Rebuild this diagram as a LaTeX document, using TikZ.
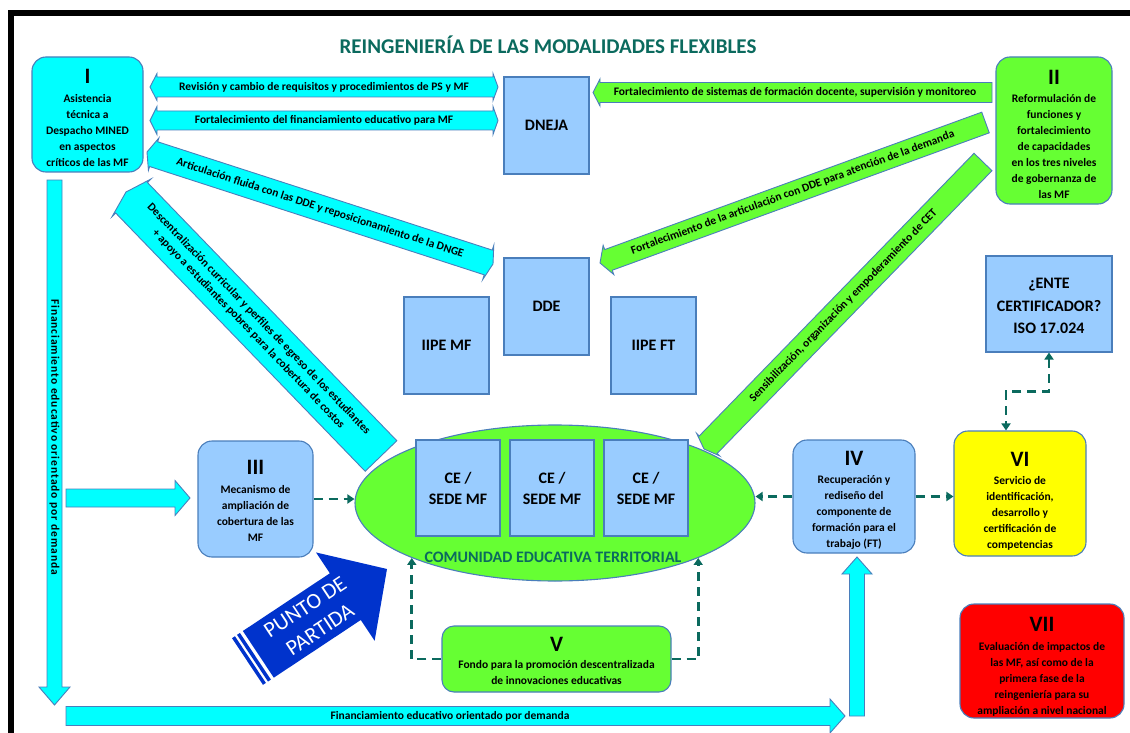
\documentclass[tikz,border=0pt]{standalone}
\usepackage{fontspec}
\setmainfont{Carlito}
\usetikzlibrary{calc,arrows.meta,shapes.geometric}

\definecolor{cyanF}{HTML}{00FFFF}
\definecolor{greenF}{HTML}{66FF33}
\definecolor{blueF}{HTML}{99CCFF}
\definecolor{edgeB}{HTML}{4A7EBB}
\definecolor{tealT}{HTML}{0B6A5E}
\definecolor{yellowF}{HTML}{FFFF00}
\definecolor{redF}{HTML}{FF0000}
\definecolor{pointB}{HTML}{0033CC}

% Wide band arrow: #1 style, #2 tip, #3 tail, #4 shaft half width,
% #5 head half width, #6 head length, #7 tail half width, #8 tail point length
\newcommand\bandarrow[8]{%
  \coordinate (hb) at ($(#2)!#6pt!(#3)$);
  \coordinate (tb) at ($(#3)!#8pt!(#2)$);
  \path[#1] (#2) -- ($(hb)!#5pt!90:(#3)$) -- ($(hb)!#4pt!90:(#3)$)
    -- ($(tb)!#4pt!-90:(#2)$) -- ($(tb)!#7pt!-90:(#2)$) -- (#3)
    -- ($(tb)!#7pt!90:(#2)$) -- ($(tb)!#4pt!90:(#2)$)
    -- ($(hb)!#4pt!-90:(#3)$) -- ($(hb)!#5pt!-90:(#3)$) -- cycle;
}
% Roman numeral heading of a box; the optional strut lowers the whole text block
\newcommand\rnum[2][14pt]{\rule{0pt}{#1}{\fontsize{22}{22}\selectfont #2}}

\begin{document}
\begin{tikzpicture}[x=1pt,y=-1pt,
  sqbox/.style={draw=edgeB, line width=1.1pt, fill=blueF, inner sep=0pt,
    align=center, minimum width=85pt, minimum height=97pt,
    font=\bfseries\fontsize{16}{21}\selectfont},
  rbox/.style={draw=edgeB, line width=1.1pt, rounded corners=14pt, inner sep=0pt,
    align=center, font=\bfseries\fontsize{11.5}{16}\selectfont},
  bandtext/.style={inner sep=0pt, align=center, font=\bfseries\fontsize{11.5}{14.5}\selectfont},
  cyanband/.style={fill=cyanF, draw=edgeB, line width=0.9pt},
  greenband/.style={fill=greenF, draw=edgeB, line width=0.9pt},
  pointband/.style={fill=pointB},
  dashlink/.style={draw=tealT, line width=2.6pt, dash pattern=on 9pt off 6pt,
    -{Triangle[length=7pt,width=9pt]}},
]
\useasboundingbox (0,0) rectangle (1130,733);

% frame
\fill[black] (8,10) rectangle (1130,16);
\fill[black] (8,10) rectangle (14,733);

\node[font=\bfseries\fontsize{21}{25}\selectfont, text=tealT] (title) at (548,45)
  {REINGENIERÍA DE LAS MODALIDADES FLEXIBLES};

% upper boxes
\node[rbox, fill=cyanF, minimum width=111pt, minimum height=115pt] (b1) at (87.5,114.5)
  {\rnum[21pt]{I}\\[2.5pt]Asistencia\\técnica a\\Despacho MINED\\en aspectos\\críticos de las MF};
\node[rbox, fill=greenF, minimum width=116pt, minimum height=147pt] (b2) at (1054,130.5)
  {\rnum[22pt]{II}\\[2.5pt]Reformulación de\\funciones y\\fortalecimiento\\de capacidades\\en los tres niveles\\de gobernanza de\\las MF};
\node[sqbox] (dneja) at (546.5,125.5) {DNEJA};
\node[sqbox] (dde) at (546.5,306.5) {DDE};
\node[sqbox] (iipemf) at (446.5,345.5) {IIPE MF};
\node[sqbox] (iipeft) at (653.5,345.5) {IIPE FT};
\node[sqbox, minimum width=126pt, minimum height=96pt, font=\bfseries\fontsize{16}{22.5}\selectfont]
  (iso) at (1049,304) {\rule{0pt}{15pt}¿ENTE\\CERTIFICADOR?\\ISO 17.024};

% territorial community
\node[ellipse, draw=edgeB, line width=1.1pt, fill=greenF, minimum width=400pt,
  minimum height=156pt, inner sep=0pt] (ce) at (555,503) {};
\foreach \i/\x in {1/458,2/552,3/646}
  \node[sqbox, minimum width=84pt, minimum height=96pt, font=\bfseries\fontsize{16}{21}\selectfont]
    (ce\i) at (\x,488) {CE /\\SEDE MF};
\node[font=\bfseries\fontsize{16}{18}\selectfont, text=tealT] (cet) at (553,557)
  {COMUNIDAD EDUCATIVA TERRITORIAL};

% horizontal band arrows at the top
\coordinate (a1tip) at (150,87);  \coordinate (a1tail) at (498,87);
\bandarrow{cyanband}{a1tip}{a1tail}{10}{13.5}{7}{13.5}{5}
\node[bandtext] (a1t) at ($(a1tip)!0.5!(a1tail)$)
  {Revisión y cambio de requisitos y procedimientos de PS y MF};

\coordinate (a2tip) at (150,120.5);  \coordinate (a2tail) at (498,120.5);
\bandarrow{cyanband}{a2tip}{a2tail}{9.5}{14}{7}{14}{5}
\node[bandtext] (a2t) at ($(a2tip)!0.5!(a2tail)$)
  {Fortalecimiento del financiamiento educativo para MF};

\coordinate (a3tip) at (593,92.5);  \coordinate (a3tail) at (992,92.5);
\bandarrow{greenband}{a3tip}{a3tail}{10}{13.5}{7}{10}{0}
\node[bandtext] (a3t) at (795,92.5)
  {Fortalecimiento de sistemas de formación docente, supervisión y monitoreo};

% diagonal band arrows
\coordinate (a4tip) at (147,152);  \coordinate (a4tail) at (493,264);
\bandarrow{cyanband}{a4tip}{a4tail}{13}{17}{7}{18}{5}
\node[bandtext, rotate=-17.94] (a4t) at ($(a4tip)!0.5!(a4tail)$)
  {Articulación fluida con las DDE y reposicionamiento de la DNGE};

\coordinate (a5tip) at (126,192);  \coordinate (a5tail) at (381,456);
\bandarrow{cyanband}{a5tip}{a5tail}{22}{27}{8}{22}{0}
\node[bandtext, rotate=-46] (a5t) at ($(a5tip)!0.5!(a5tail)$)
  {Descentralización curricular  y perfiles de egreso de los estudiantes\\+ apoyo a estudiantes pobres para la cobertura de costos};

\coordinate (a6tip) at (600,263);  \coordinate (a6tail) at (985.5,122.5);
\bandarrow{greenband}{a6tip}{a6tail}{11}{15.5}{9}{11}{0}
\node[bandtext, rotate=20.03] (a6t) at ($(a6tip)!0.5!(a6tail)$)
  {Fortalecimiento de la articulación con DDE para atención de la demanda};

\coordinate (a7tip) at (704,449);  \coordinate (a7tail) at (983,162);
\bandarrow{greenband}{a7tip}{a7tail}{12.5}{16}{6}{12.5}{0}
\node[bandtext, rotate=45.8] (a7t) at ($(a7tip)!0.5!(a7tail)$)
  {Sensibilización, organización y empoderamiento de CET};

% financing arrows
\coordinate (a8tip) at (54.5,705);  \coordinate (a8tail) at (54.5,180);
\bandarrow{cyanband}{a8tip}{a8tail}{7.5}{15.5}{18}{7.5}{0}
\node[bandtext, rotate=-90] (a8t) at (54.5,437)
  {\addfontfeatures{LetterSpace=8}Financiamiento educativo orientado por demanda};

\coordinate (a9tip) at (190,498);  \coordinate (a9tail) at (66,498);
\bandarrow{cyanband}{a9tip}{a9tail}{9}{17.5}{15}{9}{0}

\coordinate (a10tip) at (845,716);  \coordinate (a10tail) at (66,716);
\bandarrow{cyanband}{a10tip}{a10tail}{9.5}{17}{15}{9.5}{0}
\node[bandtext] (a10t) at (450,716) {Financiamiento  educativo orientado por demanda};

\coordinate (a11tip) at (857,557);  \coordinate (a11tail) at (857,716);
\bandarrow{cyanband}{a11tip}{a11tail}{7.5}{15}{17}{7.5}{0}

% lower boxes
\node[rbox, fill=blueF, minimum width=115pt, minimum height=116pt] (b3) at (255.5,499)
  {\rnum[18pt]{III}\\[2.5pt]Mecanismo de\\ampliación  de\\cobertura de las\\MF};
\node[rbox, fill=blueF, minimum width=122pt, minimum height=113pt] (b4) at (854,496.5)
  {\rnum[22pt]{IV}\\[2.5pt]Recuperación y\\rediseño del\\componente de\\formación para el\\trabajo (FT)};
\node[rbox, fill=greenF, rounded corners=12pt, minimum width=229pt, minimum height=66pt] (b5) at (556.5,659)
  {\rnum[19pt]{V}\\[1pt]Fondo para la promoción descentralizada\\de innovaciones educativas};
\node[rbox, fill=yellowF, minimum width=132pt, minimum height=125pt] (b6) at (1020,493.5)
  {\rnum[30pt]{VI}\\[2.5pt]Servicio de\\identificación,\\desarrollo y\\certificación de\\competencias};
\node[rbox, fill=redF, minimum width=164pt, minimum height=114pt] (b7) at (1042,661)
  {\rnum[26pt]{VII}\\[2.5pt]Evaluación de impactos de\\las MF, así como de la\\primera fase de la\\reingeniería para su\\ampliación  a nivel nacional};

% dashed links
\draw[dashlink] (b3.east) -- (b3.east -| ce.west);
\draw[dashlink] (b4.west) -- (b4.west -| ce.east);
\draw[dashlink] (b4.east) -- (b4.east -| b6.west);
\draw[dashlink] (b5.west) -| (ce.201);
\draw[dashlink] (b5.east) -| (ce.-21);
\draw[dashlink, {Triangle[length=7pt,width=9pt]}-{Triangle[length=7pt,width=9pt]}]
  (iso.south) -- ++(0,39) -| ([xshift=-14pt]b6.north);

% starting point arrow with striped tail
\coordinate (pdtail) at (247.5,661.5);  \coordinate (pdtip) at (387,569);
\coordinate (pdbody) at ($(pdtail)!13pt!(pdtip)$);
\bandarrow{pointband}{pdtip}{pdbody}{28}{53}{50}{28}{0}
\coordinate (st1) at ($(pdtail)!1.75pt!(pdtip)$);
\coordinate (st2) at ($(pdtail)!7.75pt!(pdtip)$);
\draw[pointB, line width=3.5pt] ($(st1)!28pt!90:(pdtip)$) -- ($(st1)!28pt!-90:(pdtip)$);
\draw[pointB, line width=3.5pt] ($(st2)!28pt!90:(pdtip)$) -- ($(st2)!28pt!-90:(pdtip)$);
\node[rotate=33.5, text=white, align=center, inner sep=0pt, font=\fontsize{22}{27}\selectfont]
  (pdt) at ($(pdtail)!78pt!(pdtip)$) {PUNTO DE\\PARTIDA};
\end{tikzpicture}
\end{document}
